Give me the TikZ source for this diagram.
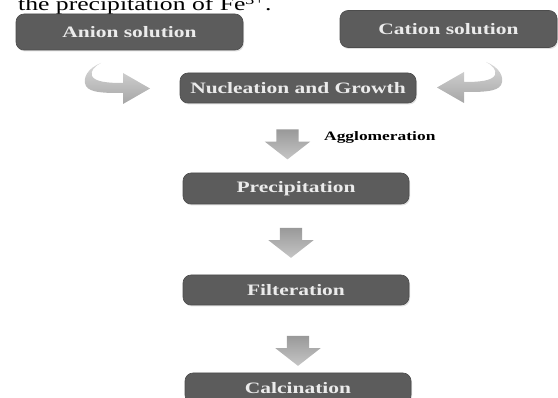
\documentclass[tikz,border=0pt]{standalone}
\usepackage{fontspec}
\setmainfont{Liberation Serif}
\newfontfamily\widefont[FakeStretch=1.35]{Liberation Serif}
\usetikzlibrary{positioning, shapes.arrows, shadows}
\definecolor{boxgray}{RGB}{92,92,92}
\tikzset{/Flow/box/.style={
	shape=rectangle, rounded corners=8pt, fill=boxgray, draw=black!70, line width=0.6pt,
	inner sep=0, text=white!92!black, font=\widefont\bfseries\fontsize{15.9}{18}\selectfont,
	drop shadow={opacity=0.25, shadow xshift=1pt, shadow yshift=-1.5pt}
}}
\tikzset{/Flow/down/.style={
	shape=single arrow, rotate=-90, inner xsep=0, inner ysep=11pt, minimum height=30pt,
	single arrow head extend=11.5pt, single arrow tip angle=104,
	top color=gray!80, bottom color=gray!45, draw=none
}}
\tikzset{bentarrow/.pic={
	\path[top color=gray!30, bottom color=gray!70, draw=none]
		(101,63) .. controls (88,68) and (82,78) .. (86,86)
		.. controls (90,93) and (105,93) .. (123,93) -- (123,104) -- (150,88.5) -- (123,73) -- (123,83)
		.. controls (108,83) and (95,82) .. (92,76)
		.. controls (90,71) and (95,66) .. (101,63) -- cycle;
}}

\begin{document}
\begin{tikzpicture}[x=1pt, y=-1pt]
\useasboundingbox (0,0) rectangle (558,398);
\clip (0,0) rectangle (558,398);
{%\large
\node[anchor=base west, inner sep=0, font=\widefont\fontsize{19}{22}\selectfont] (caption) at (18,11) {the precipitation of Fe\textsuperscript{3+}.};
\node[/Flow/box, minimum width=227pt, minimum height=36pt] (anion) at (129.5,32) {Anion solution};
\node[/Flow/box, minimum width=217pt, minimum height=37pt] (cation) at (448.5,29) {Cation solution};
\node[/Flow/box, minimum width=236pt, minimum height=30pt] (nucl) at (298,88) {Nucleation and Growth};
\node[/Flow/box, minimum width=226pt, minimum height=31pt] (prec) at (296,188.5) {Precipitation};
\node[/Flow/box, minimum width=226pt, minimum height=30pt] (filt) at (296,290) {Filteration};
\node[/Flow/box, minimum width=226pt, minimum height=30pt] (calc) at (298,388) {Calcination};
}
\pic at (0,0) {bentarrow};
\pic[xscale=-1] at (587,-1) {bentarrow};

\node[/Flow/down] (aggl) at (287.5,140) {};
\node[/Flow/down] (precdown) at (291,238.5) {};
\node[/Flow/down] (filtdown) at (298,346.5) {};
\node[anchor=base west, inner sep=0, font=\widefont\bfseries\fontsize{12.9}{15}\selectfont] (agglabel) at (324,140.5) {Agglomeration};
\end{tikzpicture}
\end{document}
